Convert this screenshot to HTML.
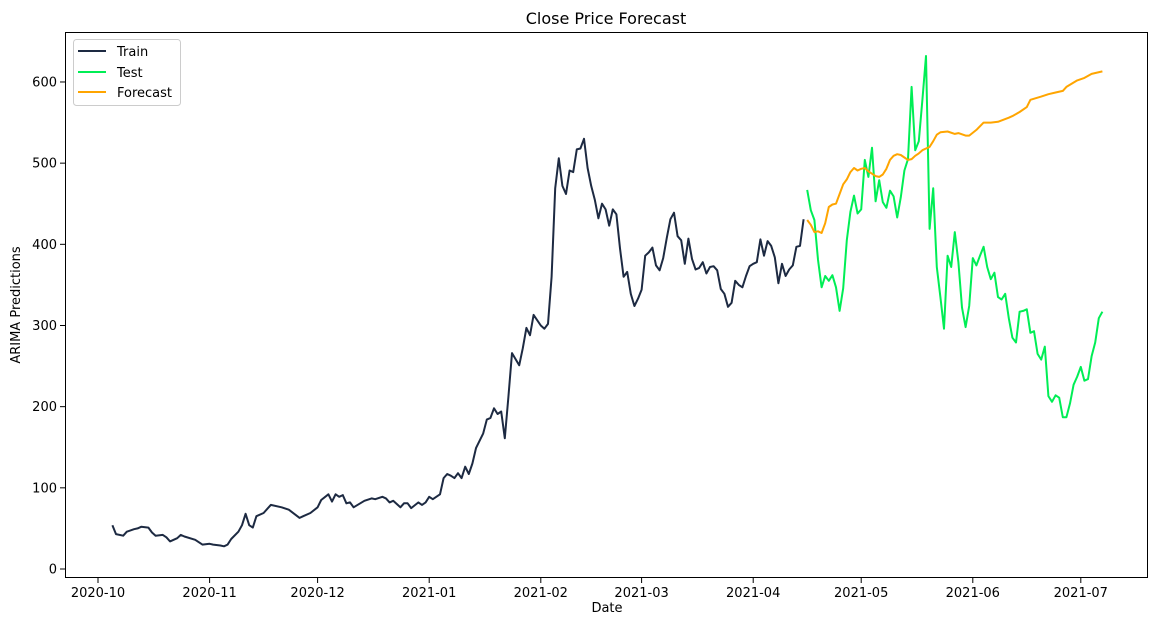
<!DOCTYPE html>
<html><head><meta charset="utf-8"><style>
body{margin:0;background:#fff;}
svg text{font-family:"DejaVu Sans","Liberation Sans",sans-serif;fill:#000;}
</style></head><body>
<svg id="chart" width="1160" height="624" xmlns="http://www.w3.org/2000/svg">
<rect width="1160" height="624" fill="#fff"/>
<text x="606" y="24" font-size="16" text-anchor="middle">Close Price Forecast</text>
<text x="607" y="612" font-size="13" text-anchor="middle">Date</text>
<text x="20" y="305" font-size="13" text-anchor="middle" transform="rotate(-90 20 305)">ARIMA Predictions</text>
<g id="grid"></g>
<g id="lines"></g>
<rect x="65.5" y="32.5" width="1082" height="545" fill="none" stroke="#000" stroke-width="1"/>
<g id="ticks"></g>
<g>
<rect x="73.5" y="39.5" width="107" height="66" rx="3" fill="#fff" stroke="#ccc"/>
<line x1="78" y1="51" x2="106" y2="51" stroke="#1d2a42" stroke-width="2"/>
<text x="117" y="56" font-size="13">Train</text>
<line x1="78" y1="72" x2="106" y2="72" stroke="#00ee55" stroke-width="2"/>
<text x="117" y="77" font-size="13">Test</text>
<line x1="78" y1="92" x2="106" y2="92" stroke="#ffa500" stroke-width="2"/>
<text x="117" y="97" font-size="13">Forecast</text>
</g>
</svg>
<script>
// days since 2020-10-01
const trainDays=[4,5,7,8,10,11,12,14,15,16,18,19,20,22,23,24,27,28,29,31,32,34,35,36,37,39,40,41,42,43,44,46,48,51,53,56,57,59,61,62,64,65,66,67,68,69,70,71,74,76,77,79,80,81,82,84,85,86,87,89,90,91,92,93,95,96,97,98,99,100,101,102,103,104,105,107,108,109,110,111,112,113,114,115,117,118,119,120,121,123,124,125,126,127,128,129,130,131,132,133,134,135,136,137,138,139,140,141,142,143,144,145,146,147,148,149,150,151,152,153,154,155,156,157,158,159,160,161,162,163,164,165,166,167,168,169,170,171,172,173,174,175,176,177,178,179,180,181,182,183,184,185,186,187,188,189,190,191,192,193,194,195,196];
const trainVals=[54,43,41,46,49,50,52,51,45,41,42,39,34,38,42,40,36,33,30,31,30,29,28,30,37,46,54,68,54,51,65,69,79,76,73,63,65,69,76,85,92,83,92,89,91,81,82,76,84,87,86,89,87,82,84,76,81,81,75,82,79,82,89,86,92,112,117,115,112,118,112,126,117,130,149,167,184,186,198,191,194,161,212,266,251,272,297,288,313,300,296,302,360,469,506,472,462,491,489,517,518,530,494,472,455,432,450,443,423,443,437,395,360,366,339,324,333,344,386,390,396,374,368,383,408,431,439,410,405,376,407,382,369,371,378,364,372,373,368,345,339,323,328,355,350,347,361,373,376,378,406,386,404,398,384,352,376,361,369,374,397,398,431];
const testStartDay=197;
const testVals=[467,442,430,381,347,361,355,362,347,318,346,405,440,460,438,443,504,483,519,453,479,452,445,466,459,433,458,491,505,594,516,527,578,632,419,469,372,335,296,386,372,415,378,322,298,324,383,374,386,397,372,357,365,335,332,339,309,285,279,317,318,320,291,293,265,258,274,213,206,214,211,187,187,204,227,237,249,232,234,262,279,309,317];
const forecastDays=[197,198,199,200,201,202,203,204,205,206,207,208,209,210,211,212,213,214,215,216,217,218,219,220,221,222,223,224,225,226,227,228,229,230,231,232,233,234,236,238,239,241,242,244,246,248,250,253,254,256,258,259,262,264,266,268,269,272,274,276,279];
const forecastVals=[430,424,415,416,414,426,446,449,450,462,474,480,489,494,491,493,494,490,487,484,483,486,493,504,509,511,510,507,504,505,509,512,516,518,520,527,535,538,539,536,537,534,534,541,550,550,551,556,558,563,569,578,582,585,587,589,594,602,605,610,613];
const xTickDays=[0,31,61,92,123,151,182,212,243,273];
const xTickLabels=["2020-10","2020-11","2020-12","2021-01","2021-02","2021-03","2021-04","2021-05","2021-06","2021-07"];
const yTicks=[0,100,200,300,400,500,600];

const NS="http://www.w3.org/2000/svg";
function xs(d){return 98+d*3.6;}
function ys(v){return 569-v*0.8117;}
const ticks=document.getElementById('ticks');
function mk(tag,attrs,parent){const e=document.createElementNS(NS,tag);for(const k in attrs)e.setAttribute(k,attrs[k]);parent.appendChild(e);return e;}
xTickDays.forEach((d,i)=>{
  const x=xs(d);
  const t=mk('line',{x1:x,y1:578,x2:x,y2:583,stroke:'#000'},ticks);
  
  
  const l=mk('text',{x:x,y:597,'font-size':13,'text-anchor':'middle'},ticks);
  l.textContent=xTickLabels[i];
  
  
});
yTicks.forEach(v=>{
  const y=ys(v);
  const t=mk('line',{x1:60,y1:y,x2:65,y2:y,stroke:'#000'},ticks);
  
  
  const l=mk('text',{x:57,y:y+4.5,'font-size':13,'text-anchor':'end'},ticks);
  l.textContent=v;
  
  
});
const lines=document.getElementById('lines');
function path(days,vals,color){
  return days.map((d,i)=>(i?'L':'M')+xs(d).toFixed(1)+','+ys(vals[i]).toFixed(1)).join('');
}
const testDays=testVals.map((v,i)=>testStartDay+i);
const p1=mk('path',{d:path(trainDays,trainVals),fill:'none',stroke:'#1d2a42','stroke-width':2,'stroke-linejoin':'round'},lines);


const p2=mk('path',{d:path(testDays,testVals),fill:'none',stroke:'#00ee55','stroke-width':2,'stroke-linejoin':'round'},lines);


const p3=mk('path',{d:path(forecastDays,forecastVals),fill:'none',stroke:'#ffa500','stroke-width':2,'stroke-linejoin':'round'},lines);


</script>
</body></html>
